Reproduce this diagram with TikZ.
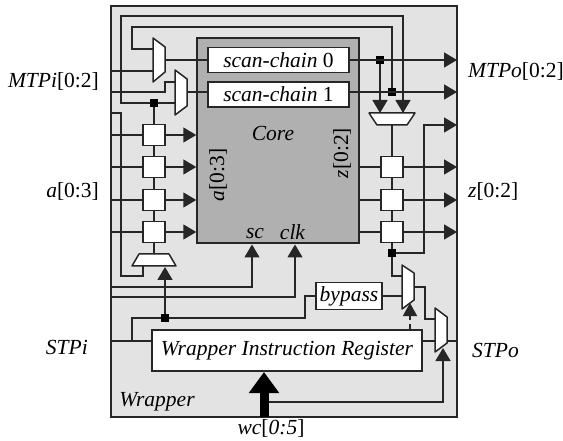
\documentclass[tikz,border=0pt]{standalone}
\usepackage{fontspec}
\setmainfont{Liberation Serif}
\usepackage{tikz}
\usetikzlibrary{
    arrows.meta,
    positioning,
    calc
}
\definecolor{wrappergray}{gray}{0.89}
\definecolor{coregray}{gray}{0.69}
\tikzset{
    wire/.style = {
        line width=1.5pt,
        draw=black!85
    },
    arrow/.style = {
        wire,
        -{Triangle[length=13pt,width=15pt]}
    },
    cellbox/.style = {
        rectangle,
        draw=black!85,
        line width=1.5pt,
        fill=white,
        minimum width=22pt,
        minimum height=21pt,
        inner sep=0pt
    },
    textbox/.style = {
        rectangle,
        draw=black!85,
        line width=1.5pt,
        fill=white,
        inner sep=0pt,
        align=center,
        font=\fontsize{21.5}{24}\selectfont\itshape
    },
    junction/.style = {
        rectangle,
        fill=black,
        minimum size=8pt,
        inner sep=0pt
    },
    muxbox/.style = {
        line width=1.5pt,
        draw=black!85,
        fill=white,
        line join=round
    },
    label/.style = {
        inner sep=0pt,
        font=\fontsize{21.5}{24}\selectfont
    },
    itlabel/.style = {
        inner sep=0pt,
        font=\fontsize{21.5}{24}\selectfont\itshape
    }
}
\begin{document}
\begin{tikzpicture}[x=1pt,y=-1pt]
\useasboundingbox (0,0) rectangle (563,441);
\node[rectangle, draw=black!85, line width=1.6pt, fill=wrappergray, minimum width=346pt, minimum height=411pt, inner sep=0pt] (wrapper) at (284,211.5) {};
\node[rectangle, draw=black!85, line width=1.5pt, fill=coregray, minimum width=162pt, minimum height=205pt, inner sep=0pt] (core) at (278,140.5) {};
\node[textbox, minimum width=141pt, minimum height=25pt] (chain0) at (278.5,60) {scan-chain {\upshape 0}};
\node[textbox, minimum width=141pt, minimum height=25pt] (chain1) at (278.5,94.5) {scan-chain {\upshape 1}};
\node[textbox, minimum width=270pt, minimum height=41pt] (wir) at (287,350.5) {Wrapper Instruction Register};
\node[textbox, minimum width=66pt, minimum height=27pt] (bypass) at (349,296) {bypass};
\foreach \i/\y in {0/135,1/167,2/200,3/232} {
    \node[cellbox] (acell\i) at (154,\y) {};
}
\foreach \i/\y in {0/167,1/200,2/232} {
    \node[cellbox] (zcell\i) at (392,\y) {};
}
\node[junction] (jleft) at (154,103) {};
\node[junction] (jtop0) at (380,60) {};
\node[junction] (jtop1) at (392,92) {};
\node[junction] (jzout) at (392,253) {};
\node[junction] (jstpi) at (165,318) {};
% mux ports
\coordinate (muxa0) at (153,49);
\coordinate (muxa1) at (153,71);
\coordinate (muxaout) at (165,60);
\coordinate (muxb0) at (175,82);
\coordinate (muxb1) at (175,103);
\coordinate (muxbout) at (187,92);
\coordinate (muxc0) at (380,113);
\coordinate (muxc1) at (403,113);
\coordinate (muxcout) at (392,125);
\coordinate (muxd0) at (143,266);
\coordinate (muxd1) at (165,267);
\coordinate (muxdout) at (154,254);
\coordinate (muxe0) at (402,276);
\coordinate (muxe1) at (402,296);
\coordinate (muxeout) at (414,287);
\coordinate (muxf0) at (435,319);
\coordinate (muxf1) at (435,341);
\coordinate (muxfsel) at (443,348);
\coordinate (muxfout) at (447,341);
\coordinate (chain1in) at (208,92);
\coordinate (chain1out) at (349,92);
\coordinate (wirin) at (152,341);
\coordinate (wirout) at (422,341);
% wires
\draw[wire] (111,71) -- (muxa1);
\draw[wire] (111,92) -- (165,92) -- (165,82) -- (muxb0);
\draw[wire] (muxaout) -- (chain0.west);
\draw[wire] (muxbout) -- (chain1in);
\draw[wire] (jleft) -- (121,103) -- (121,16) -- (403,16) -- (muxc1);
\draw[wire] (muxa0) -- (132,49) -- (132,27) -- (392,27) -- (jtop1);
\draw[wire] (jleft) -- (muxb1);
\draw[wire] (jleft) -- (acell0);
\draw[wire] (acell0) -- (acell1);
\draw[wire] (acell1) -- (acell2);
\draw[wire] (acell2) -- (acell3);
\draw[wire] (acell3) -- (muxdout);
\draw[wire] (111,113) -- (121,113) -- (121,276) -- (143,276) -- (muxd0);
\foreach \i/\y in {0/135,1/167,2/200,3/232} {
    \draw[wire] (111,\y) -- (acell\i.west);
    \draw[arrow] (acell\i.east) -- (acell\i -| core.west);
}
\draw[arrow] (111,287) -- (252,287) -- (252,244.5);
\draw[arrow] (111,297) -- (295,297) -- (295,244.5);
\draw[wire] (111,341) -- (wirin);
\draw[wire] (132,341) -- (132,318) -- (jstpi);
\draw[wire] (jstpi) -- (305,318) -- (305,296) -- (bypass.west);
\draw[arrow] (chain0.east) -- (457,60);
\draw[arrow] (chain1out) -- (457,92);
\draw[wire] (muxcout) -- (zcell0);
\draw[wire] (zcell0) -- (zcell1);
\draw[wire] (zcell1) -- (zcell2);
\draw[wire] (zcell2) -- (jzout);
\foreach \i/\y in {0/167,1/200,2/232} {
    \draw[wire] (zcell\i -| core.east) -- (zcell\i.west);
    \draw[arrow] (zcell\i.east) -- (457,\y);
}
\draw[arrow] (jzout) -- (424,253) -- (424,125) -- (457,125);
\draw[wire] (jzout) -- (392,276) -- (muxe0);
\draw[wire] (bypass.east) -- (muxe1);
\draw[wire] (muxeout) -- (425,287) -- (425,319) -- (muxf0);
\draw[wire] (wirout) -- (muxf1);
\draw[wire] (muxfout) -- (457,341);
% mux bodies
\draw[muxbox] (153,38) -- (165,47) -- (165,72) -- (153,82) -- cycle;
\draw[muxbox] (175,70) -- (187,79) -- (187,106) -- (175,115) -- cycle;
\draw[muxbox] (369,113) -- (415,113) -- (407,125) -- (377,125) -- cycle;
\draw[muxbox] (139,254) -- (169,254) -- (176,266) -- (132,266) -- cycle;
\draw[muxbox] (402,265) -- (414,273) -- (414,300) -- (402,309) -- cycle;
\draw[muxbox] (435,308) -- (447,317) -- (447,343) -- (435,352) -- cycle;
% arrows into the muxes
\draw[arrow] (jtop0) -- (muxc0);
\draw[arrow] (403,90) -- (muxc1);
\draw[arrow] (jstpi) -- (muxd1);
\draw[arrow] (264,402) -- (443,402) -- (muxfsel);
\draw[wire, dash pattern=on 5pt off 4pt, -{Triangle[length=13pt,width=14pt]}] (410,329) -- (410,303);
\draw[line width=9pt, draw=black, -{Triangle[length=21pt,width=29pt]}] (264,417) -- (264,372);
% labels
\node[itlabel] (corename) at (273,133) {Core};
\node[label, rotate=90] (alabel) at (218,175) {\textit{a}[0:3]};
\node[label, rotate=90] (zlabel) at (342,153) {\textit{z}[0:2]};
\node[itlabel] (sclabel) at (255,234) {sc};
\node[itlabel] (clklabel) at (292.5,232) {clk};
\node[itlabel] (wrapperlabel) at (157,402) {Wrapper};
\node[label, anchor=east] (mtpi) at (99,81) {\textit{MTPi}[0:2]};
\node[label, anchor=east] (ain) at (99,191) {\textit{a}[0:3]};
\node[itlabel, anchor=east] (stpi) at (88,347) {STPi};
\node[label, anchor=west] (mtpo) at (468,71) {\textit{MTPo}[0:2]};
\node[label, anchor=west] (zout) at (468,191) {\textit{z}[0:2]};
\node[itlabel, anchor=west] (stpo) at (472,350) {STPo};
\node[label] (wclabel) at (271,428) {\textit{wc}[\textit{0:5}]};
\end{tikzpicture}
\end{document}
